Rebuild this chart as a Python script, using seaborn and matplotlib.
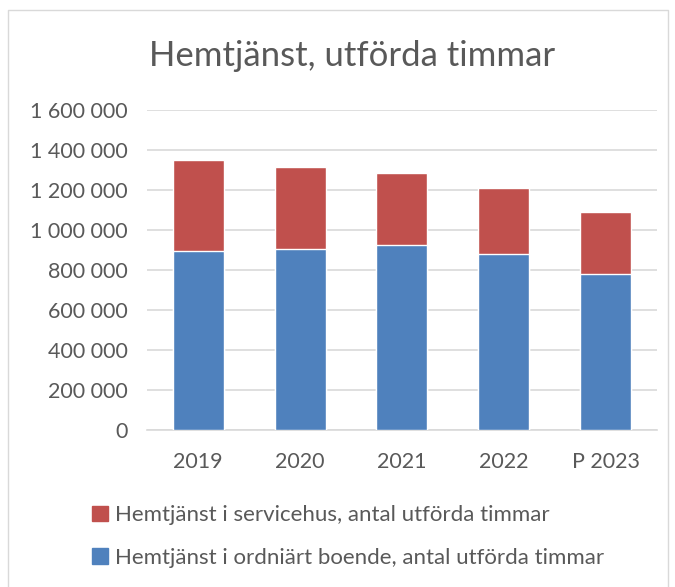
import matplotlib
matplotlib.use('Agg')
import matplotlib.pyplot as plt
import seaborn as sns
from matplotlib.patches import Patch
from matplotlib.ticker import FuncFormatter

years = ['2019', '2020', '2021', '2022', 'P 2023']
ordinart = [895000, 903000, 925000, 878000, 782000]
servicehus = [455000, 410000, 360000, 330000, 306000]
label_service = 'Hemtjänst i servicehus, antal utförda timmar'
label_ordinart = 'Hemtjänst i ordniärt boende, antal utförda timmar'

red = '#C0504D'
blue = '#4F81BD'
grey = '#595959'

sns.set_style('white')
plt.rcParams['font.family'] = ['Lato', 'DejaVu Sans']

fig = plt.figure(figsize=(6.75, 5.87), dpi=100)
ax = fig.add_axes([0.2178, 0.2675, 0.7555, 0.5451])

totals = [a + b for a, b in zip(ordinart, servicehus)]
sns.barplot(x=years, y=totals, color=red, width=0.5, saturation=1, ax=ax, zorder=3)
sns.barplot(x=years, y=ordinart, color=blue, width=0.5, saturation=1, ax=ax, zorder=3)

ax.set_ylim(0, 1600000)
ax.set_yticks(range(0, 1600001, 200000))
ax.yaxis.set_major_formatter(FuncFormatter(lambda v, p: f'{int(v):,}'.replace(',', ' ')))
ax.grid(axis='y', color='#D9D9D9', linewidth=1.2, zorder=0)
for s in ['top', 'right', 'left']:
    ax.spines[s].set_visible(False)
ax.spines['bottom'].set_color('#D9D9D9')
ax.spines['bottom'].set_linewidth(1.2)
ax.tick_params(axis='both', length=0, labelsize=15.5, colors=grey)
ax.tick_params(axis='y', pad=14)
ax.tick_params(axis='x', pad=16)

fig.text(0.522, 0.905, 'Hemtjänst, utförda timmar', ha='center', va='center',
         fontsize=25, color=grey)

handles = [Patch(color=red, label=label_service), Patch(color=blue, label=label_ordinart)]
fig.legend(handles=handles, loc='upper left', bbox_to_anchor=(0.12, 0.158),
           frameon=False, fontsize=16, labelcolor=grey, handlelength=0.7,
           handleheight=0.7, handletextpad=0.35, labelspacing=1.0, borderpad=0)

# chart area border
fig.add_artist(plt.Line2D([0.012, 0.012, 0.99, 0.99], [0.0, 0.983, 0.983, 0.0],
                          transform=fig.transFigure, color='#D9D9D9', linewidth=1))

fig.savefig('out.png', dpi=100)
